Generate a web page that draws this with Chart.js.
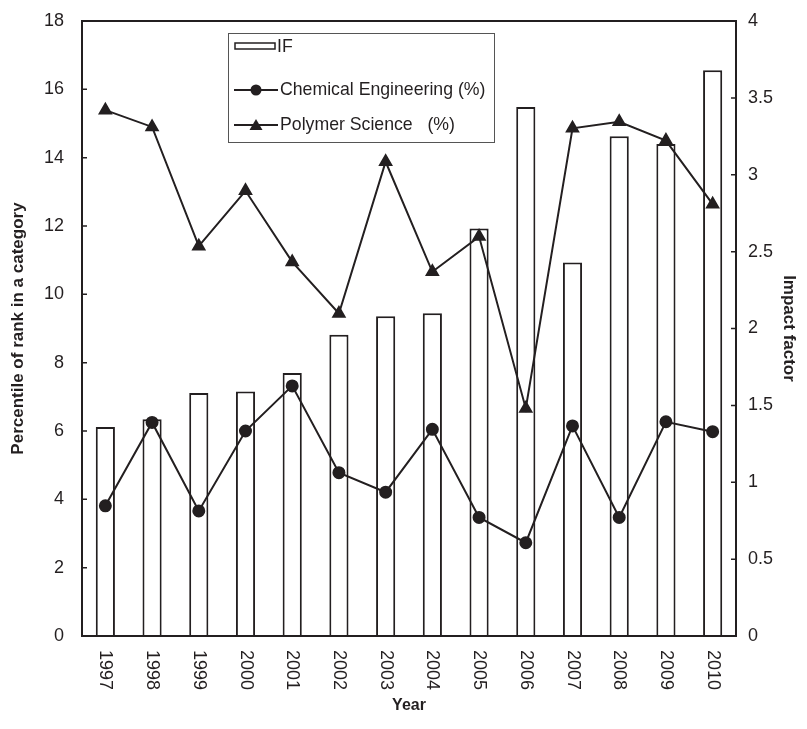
<!DOCTYPE html>
<html>
<head>
<meta charset="utf-8">
<script src="https://cdn.jsdelivr.net/npm/chart.js@4"></script>
<style>
  html, body { margin: 0; padding: 0; background: #fff; }
  #wrap { width: 807px; height: 729px; }
</style>
</head>
<body>
<div id="wrap"><canvas id="myChart" width="807" height="729"></canvas></div>
<script>
// data
const years = ['1997', '1998', '1999', '2000', '2001', '2002', '2003', '2004', '2005', '2006', '2007', '2008', '2009', '2010'];
const impactFactor = [1.36, 1.41, 1.58, 1.59, 1.71, 1.96, 2.08, 2.10, 2.65, 3.44, 2.43, 3.25, 3.20, 3.68];
const chemEng = [3.81, 6.25, 3.66, 6.0, 7.32, 4.78, 4.21, 6.05, 3.47, 2.73, 6.15, 3.47, 6.27, 5.98];
const polymerSci = [15.39, 14.9, 11.41, 13.03, 10.95, 9.44, 13.88, 10.66, 11.69, 6.66, 14.86, 15.05, 14.5, 12.64];
const leftTicks = [0, 2, 4, 6, 8, 10, 12, 14, 16, 18];
const rightTicks = [0, 0.5, 1, 1.5, 2, 2.5, 3, 3.5, 4];

const INK = '#231f20';
const FONT = "'Liberation Sans', Arial, sans-serif";

// frame, inward ticks, rotated year labels and the boxed legend
const decorations = {
  id: 'decorations',
  afterDraw(chart) {
    const { ctx, chartArea: a, scales } = chart;
    ctx.save();
    ctx.strokeStyle = INK;
    ctx.lineWidth = 2;
    ctx.strokeRect(a.left, a.top, a.right - a.left, a.bottom - a.top);

    ctx.lineWidth = 1.5;
    ctx.beginPath();
    leftTicks.forEach(v => {
      const y = scales.y.getPixelForValue(v);
      ctx.moveTo(a.left, y); ctx.lineTo(a.left + 5, y);
    });
    rightTicks.forEach(v => {
      const y = scales.y1.getPixelForValue(v);
      ctx.moveTo(a.right, y); ctx.lineTo(a.right - 5, y);
    });
    ctx.stroke();

    ctx.fillStyle = INK;
    ctx.font = '18px ' + FONT;
    ctx.textAlign = 'left';
    ctx.textBaseline = 'middle';
    years.forEach((yr, i) => {
      const x = scales.x.getPixelForTick(i);
      ctx.save();
      ctx.translate(x, a.bottom + 14);
      ctx.rotate(Math.PI / 2);
      ctx.fillText(yr, 0, 0);
      ctx.restore();
    });

    // legend
    const bx = 228, by = 33, bw = 266, bh = 109;
    ctx.fillStyle = '#fff';
    ctx.fillRect(bx, by, bw, bh);
    ctx.strokeStyle = '#555';
    ctx.lineWidth = 1;
    ctx.strokeRect(bx + 0.5, by + 0.5, bw, bh);

    ctx.strokeStyle = INK;
    ctx.lineWidth = 1.5;
    ctx.strokeRect(235, 43, 40, 6);

    ctx.lineWidth = 2;
    ctx.beginPath();
    ctx.moveTo(234, 90); ctx.lineTo(278, 90);
    ctx.moveTo(234, 125); ctx.lineTo(278, 125);
    ctx.stroke();
    ctx.fillStyle = INK;
    ctx.beginPath();
    ctx.arc(256, 90, 5.5, 0, Math.PI * 2);
    ctx.fill();
    ctx.beginPath();
    ctx.moveTo(256, 119); ctx.lineTo(262.5, 130); ctx.lineTo(249.5, 130);
    ctx.closePath();
    ctx.fill();

    ctx.font = '17.7px ' + FONT;
    ctx.fillText('IF', 277, 47);
    ctx.fillText('Chemical Engineering (%)', 280, 90);
    ctx.fillText('Polymer Science   (%)', 280, 125);
    ctx.restore();
  }
};

function fixWidth(w) {
  return s => {
    s.width = w;
    s.paddingTop = 0;
    s.paddingBottom = 0;
  };
}

window.addEventListener('DOMContentLoaded', () => {
  const ctx = document.getElementById('myChart');
  new Chart(ctx, {
    data: {
      labels: years,
      datasets: [
        {
          type: 'line',
          label: 'Chemical Engineering (%)',
          data: chemEng,
          yAxisID: 'y',
          borderColor: INK,
          borderWidth: 2,
          pointStyle: 'circle',
          pointRadius: 5.5,
          pointBackgroundColor: INK,
          pointBorderColor: INK,
          tension: 0,
          order: 1
        },
        {
          type: 'line',
          label: 'Polymer Science   (%)',
          data: polymerSci,
          yAxisID: 'y',
          borderColor: INK,
          borderWidth: 2,
          pointStyle: 'triangle',
          pointRadius: 6.5,
          pointBackgroundColor: INK,
          pointBorderColor: INK,
          tension: 0,
          order: 1
        },
        {
          type: 'bar',
          label: 'IF',
          data: impactFactor,
          yAxisID: 'y1',
          backgroundColor: '#fff',
          borderColor: INK,
          borderWidth: 2,
          categoryPercentage: 1,
          barPercentage: 0.41,
          order: 2
        }
      ]
    },
    options: {
      responsive: false,
      animation: false,
      layout: { padding: { top: 21, left: 0, right: 0, bottom: 0 } },
      plugins: {
        legend: { display: false },
        tooltip: { enabled: false }
      },
      scales: {
        x: {
          grid: { display: false },
          border: { display: false },
          ticks: { display: false },
          afterFit(s) { s.height = 93; },
          title: {
            display: true,
            text: 'Year',
            color: INK,
            font: { family: FONT, size: 16, weight: 'bold' },
            padding: { top: 0, bottom: 14 }
          }
        },
        y: {
          position: 'left',
          min: 0,
          max: 18,
          grid: { display: false, drawTicks: false },
          border: { display: false },
          afterFit: fixWidth(82),
          ticks: {
            stepSize: 2,
            padding: 18,
            color: INK,
            font: { family: FONT, size: 18 }
          },
          title: {
            display: true,
            text: 'Percentile of rank in a category',
            color: INK,
            font: { family: FONT, size: 17, weight: 'bold' },
            padding: { top: 8, bottom: 0 }
          }
        },
        y1: {
          position: 'right',
          min: 0,
          max: 4,
          grid: { display: false, drawTicks: false },
          border: { display: false },
          afterFit: fixWidth(71),
          ticks: {
            stepSize: 0.5,
            padding: 12,
            color: INK,
            font: { family: FONT, size: 18 },
            callback: v => String(v)
          },
          title: {
            display: true,
            text: 'Impact factor',
            color: INK,
            font: { family: FONT, size: 17, weight: 'bold' },
            padding: { top: 8, bottom: 0 }
          }
        }
      }
    },
    plugins: [decorations]
  });
});
</script>
</body>
</html>
